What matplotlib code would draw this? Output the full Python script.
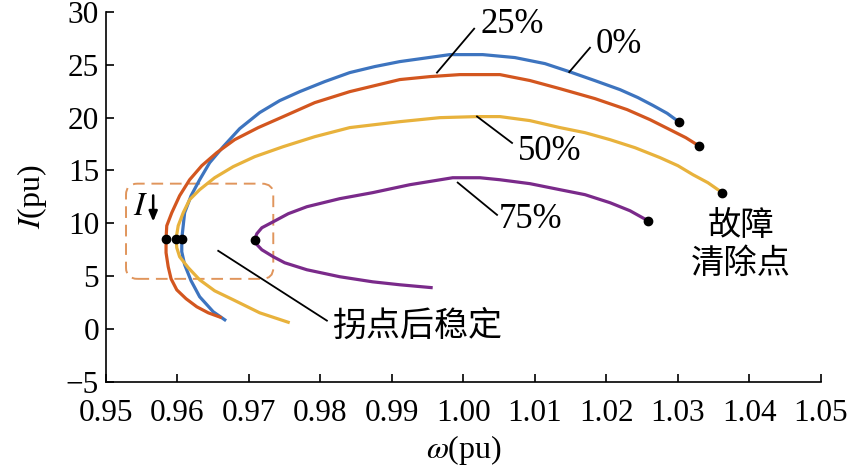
import matplotlib
matplotlib.use("Agg")
import matplotlib.pyplot as plt
from matplotlib.patches import FancyBboxPatch

plt.rcParams['font.family'] = ['Liberation Serif', 'Noto Sans CJK SC', 'DejaVu Sans']
plt.rcParams['mathtext.fontset'] = 'stix'
plt.rcParams['axes.unicode_minus'] = True

# 曲线数据 (omega, I)，从下端走到故障清除点
w_0 = [0.9668, 0.9650, 0.9631, 0.9619, 0.9610, 0.9606, 0.9606, 0.9608, 0.9610, 0.9619,
       0.9631, 0.9645, 0.9664, 0.9687, 0.9715, 0.9743, 0.9771, 0.9806, 0.9841, 0.9876,
       0.9911, 0.9981, 1.0027, 1.0072, 1.0114, 1.0148, 1.0184, 1.0219, 1.0244, 1.0265,
       1.0285, 1.0301]
i_0 = [0.79, 1.64, 3.06, 4.57, 6.09, 7.31, 8.54, 9.77, 11.00, 12.61,
       14.12, 15.73, 17.25, 18.95, 20.47, 21.60, 22.45, 23.40, 24.25, 24.82,
       25.29, 25.95, 25.95, 25.67, 25.10, 24.34, 23.49, 22.64, 21.89, 21.15,
       20.40, 19.61]

w_25 = [0.9662, 0.9643, 0.9627, 0.9612, 0.9599, 0.9591, 0.9587, 0.9584, 0.9584, 0.9585,
        0.9592, 0.9603, 0.9617, 0.9634, 0.9655, 0.9680, 0.9713, 0.9748, 0.9792, 0.9841,
        0.9876, 0.9911, 0.9953, 0.9995, 1.0051, 1.0093, 1.0135, 1.0184, 1.0229, 1.0261,
        1.0289, 1.0311, 1.0329]
i_25 = [1.07, 1.54, 2.11, 2.87, 3.71, 4.76, 5.90, 7.22, 8.54, 9.77,
        11.00, 12.61, 14.12, 15.45, 16.68, 17.91, 19.05, 20.09, 21.41, 22.45,
        23.02, 23.59, 23.87, 24.06, 24.06, 23.50, 22.73, 21.79, 20.75, 19.80,
        18.85, 18.10, 17.34]

w_50 = [0.9757, 0.9715, 0.9678, 0.9652, 0.9631, 0.9615, 0.9603, 0.9599, 0.9598, 0.9601,
        0.9608, 0.9617, 0.9631, 0.9652, 0.9678, 0.9708, 0.9748, 0.9792, 0.9841, 0.9911,
        0.9967, 1.0019, 1.0051, 1.0093, 1.0135, 1.0170, 1.0205, 1.0240, 1.0275, 1.0300,
        1.0321, 1.0342, 1.0362]
i_50 = [0.60, 1.54, 2.77, 3.62, 4.66, 5.81, 6.84, 7.69, 8.54, 9.77,
        11.00, 12.24, 13.18, 14.31, 15.36, 16.30, 17.25, 18.19, 19.05, 19.61,
        19.99, 20.09, 20.09, 19.71, 19.05, 18.57, 17.91, 17.15, 16.21, 15.45,
        14.60, 13.84, 12.90]

w_75 = [0.9957, 0.9911, 0.9873, 0.9827, 0.9781, 0.9750, 0.9734, 0.9718, 0.9710, 0.9708,
        0.9711, 0.9718, 0.9734, 0.9755, 0.9781, 0.9827, 0.9873, 0.9925, 0.9985, 1.0023,
        1.0051, 1.0093, 1.0135, 1.0170, 1.0205, 1.0233, 1.0258]
i_75 = [3.91, 4.19, 4.47, 4.95, 5.61, 6.27, 6.84, 7.50, 8.07, 8.45,
        9.02, 9.58, 10.15, 10.91, 11.57, 12.33, 12.90, 13.65, 14.31, 14.31,
        14.12, 13.75, 13.18, 12.71, 11.95, 11.19, 10.25]

# 拐点所在下标
nose_idx = [6, 8, 8, 9]

series = [(w_0, i_0), (w_25, i_25), (w_50, i_50), (w_75, i_75)]
colors = ['#3d74bf', '#d3561f', '#e8b23c', '#7a2a8a']

# 标注: 文本, 线起点, 线终点, 文本位置
labels = ['25%', '0%', '50%', '75%']
label_xy = [(0.9963, 24.25), (1.0148, 24.3), (1.0019, 20.1), (0.9992, 13.85)]
label_end = [(1.0015, 28.4), (1.0177, 26.6), (1.0068, 17.6), (1.0047, 10.8)]
label_txt = [(1.0024, 28.8), (1.0185, 26.9), (1.0076, 16.8), (1.0050, 10.4)]

fig = plt.figure(figsize=(8.48, 4.71), dpi=100)
ax = fig.add_axes([0.125, 0.189, 0.843, 0.786])

for (w, i), c in zip(series, colors):
    ax.plot(w, i, color=c, lw=2.3, solid_capstyle='butt', solid_joinstyle='round', zorder=3)

for (w, i), k in zip(series, nose_idx):
    ax.plot([w[k], w[-1]], [i[k], i[-1]], 'o', color='black', ms=6, zorder=5)

for t, p0, p1, pt in zip(labels, label_xy, label_end, label_txt):
    ax.plot([p0[0], p1[0]], [p0[1], p1[1]], color='black', lw=1.3, zorder=4)
    ax.text(pt[0], pt[1], t, fontsize=25, ha='left', va='center')

ax.plot([0.9657, 0.9809], [7.4, 0.8], color='black', lw=1.3, zorder=4)
ax.text(0.9816, 0.3, '拐点后稳定', fontsize=24.5, ha='left', va='center',
        family=['Noto Sans CJK SC'])
ax.text(1.0388, 8.0, '故障\n清除点', fontsize=24, ha='center', va='center',
        family=['Noto Sans CJK SC'], linespacing=1.1)

# 虚线框
box = FancyBboxPatch((0.9528, 4.75), 0.0206, 9.0,
                     boxstyle='round,pad=0,rounding_size=0.0016',
                     mutation_aspect=650, fill=False, ec='#e0955c', lw=1.4,
                     ls=(0, (6, 3.5)), zorder=2)
ax.add_patch(box)
ax.text(0.9549, 11.6, '$I$', fontsize=24, ha='center', va='center')
ax.annotate('', xy=(0.9566, 9.9), xytext=(0.9566, 12.9),
            arrowprops=dict(arrowstyle='-|>,head_length=0.6,head_width=0.25',
                            color='black', lw=1.8))

ax.set_xlim(0.95, 1.05)
ax.set_ylim(-5, 30)
ax.set_xticks([0.95 + 0.01 * k for k in range(11)])
ax.set_xticklabels(['0.95', '0.96', '0.97', '0.98', '0.99', '1.00',
                    '1.01', '1.02', '1.03', '1.04', '1.05'])
ax.set_yticks(range(-5, 31, 5))
ax.spines['top'].set_visible(False)
ax.spines['right'].set_visible(False)
ax.spines['left'].set_linewidth(1.2)
ax.spines['bottom'].set_linewidth(1.2)
ax.tick_params(direction='in', length=6, width=1.2, labelsize=22.5)
ax.tick_params(axis='x', pad=12)
ax.tick_params(axis='y', pad=5)
ax.set_xlabel(r'$\omega$(pu)', fontsize=23, labelpad=4)
ax.set_ylabel(r'$I$(pu)', fontsize=23, labelpad=12)

fig.savefig('out.png', dpi=100)
